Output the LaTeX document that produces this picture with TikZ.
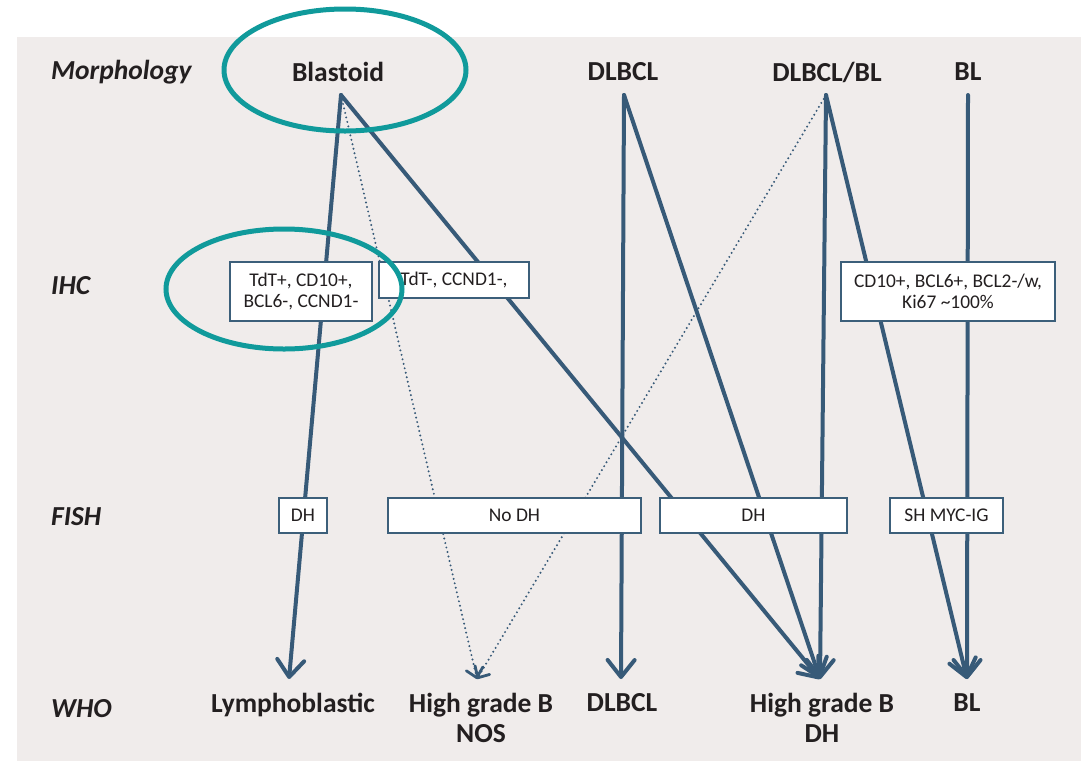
\documentclass[tikz,border=0pt]{standalone}
\usepackage{fontspec}
\setmainfont{Carlito}
\usetikzlibrary{arrows.meta}
\definecolor{panel}{RGB}{240,236,235}
\definecolor{flowc}{RGB}{55,90,120}
\definecolor{framec}{RGB}{60,95,122}
\definecolor{tealc}{RGB}{16,154,155}
\definecolor{inkc}{RGB}{35,31,32}
\begin{document}
\begin{tikzpicture}[x=1pt,y=-1pt,
  rowlabel/.style={anchor=west,inner sep=0pt,text=inkc,font=\fontsize{27.5}{30}\selectfont\bfseries\itshape},
  headlabel/.style={inner sep=0pt,text=inkc,align=center,font=\fontsize{27.5}{30}\selectfont\bfseries},
  infobox/.style={draw=framec,line width=1.5pt,fill=white,inner sep=0pt,align=center,text=inkc,
    font=\fontsize{19.4}{21}\selectfont},
  flow/.style={draw=flowc,line width=4pt,line cap=round,
    -{Straight Barb[length=17pt,width=27pt,line cap=round,line join=round]}},
  dotflow/.style={draw=flowc,line width=2.2pt,line cap=round,dash pattern=on 0pt off 4.6pt,
    -{Straight Barb[length=9pt,width=17pt,line width=2.8pt,line cap=round,line join=round]}},
  ring/.style={draw=tealc,line width=5pt}]

\useasboundingbox (0,0) rectangle (1081,761);
\fill[panel] (17,37) rectangle (1081,761);

% row labels
\node[rowlabel] (rmorph) at (51,72) {Morphology};
\node[rowlabel] (rihc) at (51,286) {IHC};
\node[rowlabel] (rfish) at (51,517) {FISH};
\node[rowlabel] (rwho) at (51,709) {WHO};

% morphology categories
\node[headlabel] (blastoid) at (338,72) {Blastoid};
\node[headlabel] (dlbcl) at (623,72) {DLBCL};
\node[headlabel] (dlbclbl) at (827,72) {DLBCL/BL};
\node[headlabel] (bl) at (968,72) {BL};

% WHO categories
\node[headlabel,anchor=north] (lympho) at (293,693) {Lymphoblastic};
\node[headlabel,anchor=north] (hgbnos) at (481,693) {High grade B\\NOS};
\node[headlabel,anchor=north] (wdlbcl) at (622,693) {DLBCL};
\node[headlabel,anchor=north] (hgbdh) at (822,693) {High grade B\\DH};
\node[headlabel,anchor=north] (wbl) at (967,693) {BL};

% line start and end points
\coordinate (s-blastoid) at (341,95);
\coordinate (s-dlbcl) at (624,95);
\coordinate (s-dlbclbl) at (826,95);
\coordinate (s-bl) at (968,95);
\coordinate (e-lympho) at (289,679);
\coordinate (e-hgbnos) at (477,679);
\coordinate (e-dlbcl) at (621,679);
\coordinate (e-hgbdh) at (820,679);
\coordinate (e-bl) at (967,679);

% pathways
\draw[dotflow] (s-blastoid) -- (e-hgbnos);
\draw[dotflow] (s-dlbclbl) -- (e-hgbnos);
\draw[flow] (s-blastoid) -- (e-lympho);
\draw[flow] (s-blastoid) -- (e-hgbdh);
\draw[flow] (s-dlbcl) -- (e-dlbcl);
\draw[flow] (s-dlbcl) -- (e-hgbdh);
\draw[flow] (s-dlbclbl) -- (e-hgbdh);
\draw[flow] (s-dlbclbl) -- (e-bl);
\draw[flow] (s-bl) -- (e-bl);

% IHC boxes
\node[infobox,minimum width=142pt,minimum height=59pt] (ihc1) at (301,291.5) {TdT+, CD10+,\\BCL6-, CCND1-};
\node[infobox,minimum width=150pt,minimum height=36pt] (ihc2) at (454,280) {TdT-, CCND1-,};
\node[infobox,minimum width=214pt,minimum height=59pt] (ihc3) at (948,291.5) {CD10+, BCL6+, BCL2-/w,\\Ki67 \textasciitilde100\%};

% FISH boxes
\node[infobox,minimum width=48pt,minimum height=35pt] (fish1) at (303,515.5) {DH};
\node[infobox,minimum width=253pt,minimum height=35pt] (fish2) at (514.5,515.5) {No DH};
\node[infobox,minimum width=187pt,minimum height=35pt] (fish3) at (753.5,515.5) {DH};
\node[infobox,minimum width=113pt,minimum height=35pt] (fish4) at (946.5,515.5) {SH MYC-IG};

% highlight rings
\draw[ring] (345,70) ellipse [x radius=121pt,y radius=61pt];
\draw[ring] (284,289) ellipse [x radius=118pt,y radius=60pt];
\end{tikzpicture}
\end{document}
